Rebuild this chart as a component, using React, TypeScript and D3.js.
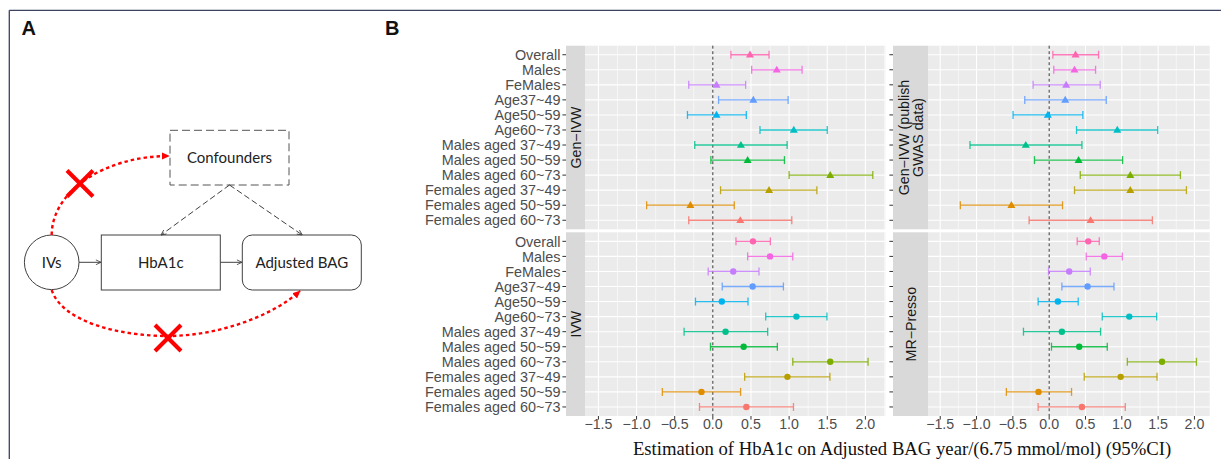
import React from 'react';
import * as d3 from 'd3';

// subgroups, top to bottom
const subgroups = [
  'Overall',
  'Males',
  'FeMales',
  'Age37~49',
  'Age50~59',
  'Age60~73',
  'Males aged 37~49',
  'Males aged 50~59',
  'Males aged 60~73',
  'Females aged 37~49',
  'Females aged 50~59',
  'Females aged 60~73',
];

// ggplot hue palette, same order as subgroups
const groupColors = [
  '#FF64B0', '#F564E3', '#C77CFF', '#619CFF', '#00B4F0', '#00BFC4',
  '#00C08B', '#00BA38', '#7CAE00', '#B79F00', '#DE8C00', '#F8766D',
];

const genIvwEst = [0.487, 0.838, 0.048, 0.531, 0.048, 1.061, 0.368, 0.456, 1.539, 0.737, -0.294, 0.36];
const genIvwLow = [0.237, 0.509, -0.316, 0.075, -0.333, 0.618, -0.237, -0.026, 1.0, 0.101, -0.868, -0.316];
const genIvwHigh = [0.737, 1.17, 0.43, 0.987, 0.439, 1.5, 0.974, 0.939, 2.097, 1.364, 0.281, 1.035];

const publishEst = [0.363, 0.349, 0.234, 0.221, -0.018, 0.938, -0.322, 0.405, 1.117, 1.117, -0.52, 0.57];
const publishLow = [0.051, 0.064, -0.221, -0.336, -0.497, 0.377, -1.09, -0.202, 0.428, 0.349, -1.223, -0.276];
const publishHigh = [0.68, 0.639, 0.703, 0.786, 0.464, 1.494, 0.451, 1.011, 1.807, 1.89, 0.184, 1.421];

const ivwEst = [0.526, 0.75, 0.268, 0.522, 0.118, 1.096, 0.167, 0.404, 1.539, 0.978, -0.149, 0.439];
const ivwLow = [0.303, 0.456, -0.061, 0.123, -0.228, 0.693, -0.377, -0.031, 1.048, 0.417, -0.662, -0.175];
const ivwHigh = [0.754, 1.048, 0.605, 0.925, 0.461, 1.496, 0.719, 0.846, 2.035, 1.535, 0.364, 1.057];

const mrEst = [0.538, 0.759, 0.276, 0.529, 0.12, 1.103, 0.175, 0.414, 1.554, 0.984, -0.147, 0.451];
const mrLow = [0.386, 0.51, -0.009, 0.175, -0.152, 0.731, -0.354, 0.032, 1.076, 0.483, -0.589, -0.152];
const mrHigh = [0.69, 1.007, 0.566, 0.892, 0.4, 1.48, 0.708, 0.8, 2.028, 1.485, 0.308, 1.048];

const xTicks = [-1.5, -1, -0.5, 0, 0.5, 1, 1.5, 2];
const xMinor = [-1.75, -1.25, -0.75, -0.25, 0.25, 0.75, 1.25, 1.75, 2.25];

const sans = '"Liberation Sans", Arial, sans-serif';
const fmt = d3.format('.1f');

const Panel = (props) => {
  const {
    est, low, high, shape, left, right, stripW, domain, top, bottom,
    strip, labels, xAxis,
  } = props;
  const px0 = left + stripW;
  const x = d3.scaleLinear().domain(domain).range([px0, right]);
  const y = d3.scalePoint().domain(subgroups).range([top, bottom]).padding(0.6);
  const tri = d3.symbol().type(d3.symbolTriangle).size(28)();
  const minor = xMinor.filter((v) => v > domain[0] && v < domain[1]);
  const cy = (top + bottom) / 2;
  const cx = left + stripW / 2;
  const lineGap = 14;

  return (
    <g>
      <rect x={left} y={top} width={stripW} height={bottom - top} fill="#D9D9D9" />
      <rect x={px0} y={top} width={right - px0} height={bottom - top} fill="#EBEBEB" />
      {minor.map((v) => (
        <line key={`mn${v}`} x1={x(v)} x2={x(v)} y1={top} y2={bottom} stroke="#fff" strokeWidth={0.55} />
      ))}
      {xTicks.map((v) => (
        <line key={`mj${v}`} x1={x(v)} x2={x(v)} y1={top} y2={bottom} stroke="#fff" strokeWidth={1.1} />
      ))}
      {subgroups.map((g) => (
        <line key={`h${g}`} x1={px0} x2={right} y1={y(g)} y2={y(g)} stroke="#fff" strokeWidth={1.1} />
      ))}
      <line x1={x(0)} x2={x(0)} y1={top} y2={bottom} stroke="#333" strokeWidth={1} strokeDasharray="3 2.5" />
      {subgroups.map((g, i) => (
        <g key={`e${g}`} stroke={groupColors[i]} strokeWidth={1.3} strokeOpacity={0.85}>
          <line x1={x(low[i])} x2={x(high[i])} y1={y(g)} y2={y(g)} />
          <line x1={x(low[i])} x2={x(low[i])} y1={y(g) - 4} y2={y(g) + 4} />
          <line x1={x(high[i])} x2={x(high[i])} y1={y(g) - 4} y2={y(g) + 4} />
        </g>
      ))}
      {subgroups.map((g, i) => (shape === 'triangle' ? (
        <path key={`p${g}`} d={tri} transform={`translate(${x(est[i])},${y(g) + 0.5})`} fill={groupColors[i]} />
      ) : (
        <circle key={`p${g}`} cx={x(est[i])} cy={y(g)} r={3.2} fill={groupColors[i]} />
      )))}
      {subgroups.map((g) => (
        <line key={`t${g}`} x1={left - 3.6} x2={left} y1={y(g)} y2={y(g)} stroke="#333" strokeWidth={1} />
      ))}
      {labels && subgroups.map((g) => (
        <text key={`l${g}`} x={left - 5.5} y={y(g)} dy="0.36em" textAnchor="end" fontSize={14.4} fontFamily={sans} fill="#4D4D4D">{g}</text>
      ))}
      <g transform={`translate(${cx},${cy}) rotate(-90)`}>
        {strip.map((s, k) => (
          <text
            key={s}
            x={0}
            y={(k - (strip.length - 1) / 2) * lineGap}
            dy="0.36em"
            textAnchor="middle"
            fontSize={14.2}
            fontFamily={sans}
            fill="#1A1A1A"
          >
            {s}
          </text>
        ))}
      </g>
      {xAxis && xTicks.map((v) => (
        <g key={`x${v}`}>
          <line x1={x(v)} x2={x(v)} y1={bottom} y2={bottom + 3.6} stroke="#333" strokeWidth={1} />
          <text x={x(v)} y={428.5} textAnchor="middle" fontSize={14.2} fontFamily={sans} fill="#4D4D4D">{fmt(v)}</text>
        </g>
      ))}
    </g>
  );
};

const Diagram = () => {
  const ink = '#404040';
  const boxFont = 'Lato, "Open Sans", sans-serif';
  return (
    <g>
      <defs>
        <marker id="redHead" viewBox="0 0 10 10" refX="9" refY="5" markerWidth="8" markerHeight="8" markerUnits="userSpaceOnUse" orient="auto">
          <path d="M0,0.5 L10,5 L0,9.5 z" fill="#FF0000" />
        </marker>
        <marker id="openHead" viewBox="0 0 10 10" refX="9.5" refY="5" markerWidth="6" markerHeight="6" markerUnits="userSpaceOnUse" orient="auto">
          <path d="M1,1 L9.5,5 L1,9" fill="none" stroke={ink} strokeWidth={1.4} />
        </marker>
      </defs>
      <rect x={170} y={130.3} width={119} height={54.7} fill="none" stroke="#555" strokeWidth={1} strokeDasharray="8 4" />
      <text x={229.5} y={157.7} dy="0.35em" textAnchor="middle" fontSize={15} fontFamily={boxFont} fill="#222">Confounders</text>

      <circle cx={51.7} cy={262.3} r={27.3} fill="none" stroke={ink} strokeWidth={1} />
      <text x={51.7} y={262.3} dy="0.35em" textAnchor="middle" fontSize={15} fontFamily={boxFont} fill="#222">IVs</text>

      <rect x={101.3} y={235} width={119} height={55} fill="none" stroke={ink} strokeWidth={1} />
      <text x={160.8} y={262.3} dy="0.35em" textAnchor="middle" fontSize={15} fontFamily={boxFont} fill="#222">HbA1c</text>

      <rect x={242.3} y={235} width={119} height={55} rx={10} fill="none" stroke={ink} strokeWidth={1} />
      <text x={301.8} y={262.3} dy="0.35em" textAnchor="middle" fontSize={15} fontFamily={boxFont} fill="#222">Adjusted BAG</text>

      <line x1={79} y1={262.3} x2={101} y2={262.3} stroke={ink} strokeWidth={1} markerEnd="url(#openHead)" />
      <line x1={220.3} y1={262.3} x2={242} y2={262.3} stroke={ink} strokeWidth={1} markerEnd="url(#openHead)" />
      <line x1={229.5} y1={185} x2={161} y2={235} stroke={ink} strokeWidth={1} strokeDasharray="6 3" markerEnd="url(#openHead)" />
      <line x1={229.5} y1={185} x2={302.3} y2={235} stroke={ink} strokeWidth={1} strokeDasharray="6 3" markerEnd="url(#openHead)" />

      <path d="M51.7,235 C51.7,191.4 104.6,156 169,156" fill="none" stroke="#FF0000" strokeWidth={2.4} strokeDasharray="3.5 3" markerEnd="url(#redHead)" />
      <path d="M51.7,290 C62,322 120,336 168,336 C215,336 270,318 300,291" fill="none" stroke="#FF0000" strokeWidth={2.4} strokeDasharray="3.5 3" markerEnd="url(#redHead)" />

      <g stroke="#FF0000" strokeWidth={4}>
        <line x1={67} y1={170.5} x2={93} y2={196.5} />
        <line x1={93} y1={170.5} x2={67} y2={196.5} />
        <line x1={155} y1={325} x2={181} y2={351} />
        <line x1={181} y1={325} x2={155} y2={351} />
      </g>
    </g>
  );
};

export default function App() {
  const W = 1221;
  const H = 459;
  const leftDomain = [-1.676, 2.261];
  const rightDomain = [-1.668, 2.21];
  return (
    <svg width={W} height={H} style={{ position: 'absolute', left: 0, top: 0, background: '#fff' }}>
      <rect x={0} y={0} width={W} height={H} fill="#fff" />
      <line x1={9.3} x2={W} y1={10.3} y2={10.3} stroke="#3B4262" strokeWidth={1.3} />
      <line x1={9.3} x2={9.3} y1={10.3} y2={H} stroke="#3B4262" strokeWidth={1.3} />

      <text x={21.5} y={35} fontSize={20} fontWeight="bold" fontFamily={sans} fill="#111">A</text>
      <text x={385} y={35} fontSize={20} fontWeight="bold" fontFamily={sans} fill="#111">B</text>

      <Diagram />

      <Panel est={genIvwEst} low={genIvwLow} high={genIvwHigh} shape="triangle"
        left={566} right={885.3} stripW={19} domain={leftDomain} top={45.7} bottom={229.3}
        strip={['Gen−IVW']} labels xAxis={false} />
      <Panel est={publishEst} low={publishLow} high={publishHigh} shape="triangle"
        left={893} right={1209.7} stripW={35} domain={rightDomain} top={45.7} bottom={229.3}
        strip={['Gen−IVW (publish', 'GWAS data)']} labels={false} xAxis={false} />
      <Panel est={ivwEst} low={ivwLow} high={ivwHigh} shape="circle"
        left={566} right={885.3} stripW={19} domain={leftDomain} top={232.3} bottom={416}
        strip={['IVW']} labels xAxis />
      <Panel est={mrEst} low={mrLow} high={mrHigh} shape="circle"
        left={893} right={1209.7} stripW={35} domain={rightDomain} top={232.3} bottom={416}
        strip={['MR−Presso']} labels={false} xAxis />

      <text x={902} y={454.5} textAnchor="middle" fontSize={18.7}
        fontFamily='"Liberation Serif", "Times New Roman", serif' fill="#111">
        Estimation of HbA1c on Adjusted BAG year/(6.75 mmol/mol) (95%CI)
      </text>
    </svg>
  );
}
